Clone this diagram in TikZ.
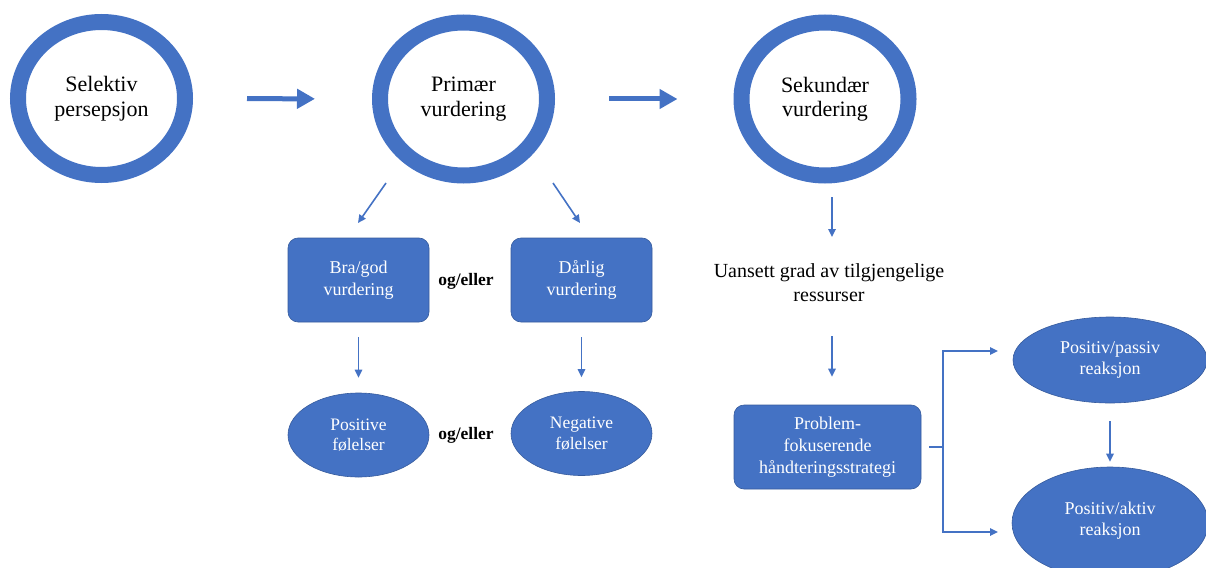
\documentclass[tikz,border=0pt]{standalone}
\usepackage{fontspec}
\setmainfont{LiberationSerif}[Extension=.ttf, UprightFont=*-Regular, BoldFont=*-Bold, ItalicFont=*-Italic, BoldItalicFont=*-BoldItalic]
\usetikzlibrary{shapes.geometric,arrows.meta}
\definecolor{ofblue}{RGB}{68,114,196}
\tikzset{
  ring/.style={ellipse, draw=ofblue, line width=16pt, fill=white, inner sep=0pt,
    minimum width=167pt, minimum height=153pt, align=center,
    font=\fontsize{22}{24.5}\selectfont},
  bluebox/.style={rectangle, rounded corners=10pt, fill=ofblue, draw=ofblue!80!black, line width=0.6pt,
    text=white, align=center, inner sep=0pt, font=\fontsize{18}{22}\selectfont},
  blueell/.style={ellipse, fill=ofblue, draw=ofblue!80!black, line width=0.6pt,
    text=white, align=center, inner sep=0pt, font=\fontsize{17.5}{20.5}\selectfont},
  bigarrow/.style={draw=ofblue, line width=5pt, -{Triangle[length=18pt,width=19pt]}},
  tarrow/.style={draw=ofblue, line width=1.6pt, -{Triangle[length=8pt,width=7.5pt]}},
  tline/.style={draw=ofblue, line width=1.6pt},
  plain/.style={align=center, inner sep=0pt, text=black},
}
\begin{document}
\begin{tikzpicture}[x=1pt,y=-1pt]
\useasboundingbox (0,0) rectangle (1206,567);
% circles
\node[ring] (sel) at (101.5,98.5) {Selektiv\\persepsjon};
\node[ring] (pri) at (463.5,99) {Primær\\vurdering};
\node[ring] (sek) at (825,99) {Sekundær\\vurdering};
% thick arrows
\draw[bigarrow, shorten <=54pt, shorten >=57pt] (sel.east) -- (pri.west);
\draw[bigarrow, shorten <=54pt, shorten >=56pt] (pri.east) -- (sek.west);
% boxes
\node[bluebox, minimum width=141pt, minimum height=84pt] (bra) at (358.5,280) {Bra/god\\vurdering};
\node[bluebox, minimum width=141pt, minimum height=84pt] (dar) at (581.5,280) {Dårlig\\vurdering};
\node[plain, font=\fontsize{17.5}{20}\selectfont\bfseries] (og1) at (466,281) {og/eller};
% diagonal arrows
\coordinate (d1s) at (386,183);
\coordinate (d1e) at (358,223);
\coordinate (d2s) at (553,183);
\coordinate (d2e) at (580,223);
\draw[tarrow] (d1s) -- (d1e);
\draw[tarrow] (d2s) -- (d2e);
% ellipses left
\node[blueell, minimum width=141pt, minimum height=84pt] (pos) at (358.5,435) {Positive\\følelser};
\node[blueell, minimum width=141pt, minimum height=84pt] (neg) at (581.5,433.5) {Negative\\følelser};
\node[plain, font=\fontsize{17.5}{20}\selectfont\bfseries] (og2) at (466,435) {og/eller};
\draw[tarrow, shorten <=15pt, shorten >=15pt] (bra.south) -- (pos.north);
\draw[tarrow, shorten <=15pt, shorten >=14pt] (dar.south) -- (neg.north);
% right part
\node[plain, font=\fontsize{20}{24}\selectfont] (uan) at (829,283) {Uansett grad av tilgjengelige\\ressurser};
\coordinate (s1s) at (832,197);
\coordinate (s1e) at (832,237);
\draw[tarrow] (s1s) -- (s1e);
\node[bluebox, minimum width=187pt, minimum height=84pt] (prob) at (827.5,447) {Problem-\\fokuserende\\håndteringsstrategi};
\coordinate (s2s) at (832,336);
\draw[tarrow, shorten >=28pt] (s2s) -- (s2s |- prob.north);
\node[blueell, minimum width=194pt, minimum height=86pt, font=\fontsize{18}{21.5}\selectfont] (pp) at (1110,360) {Positiv/passiv\\reaksjon};
\node[blueell, minimum width=196pt, minimum height=112pt, font=\fontsize{18}{21.5}\selectfont] (pa) at (1110,523) {\\[-14pt]Positiv/aktiv\\reaksjon};
\coordinate (j) at (943,447);
\coordinate (t1) at (998,351);
\coordinate (t2) at (998,532);
\draw[tline, shorten <=8pt] (prob.east) -- (j);
\draw[tarrow] (j) |- (t1);
\draw[tarrow] (j) |- (t2);
\draw[tarrow, shorten <=18pt, shorten >=5pt] (pp.south) -- (pa.north);
\end{tikzpicture}
\end{document}
